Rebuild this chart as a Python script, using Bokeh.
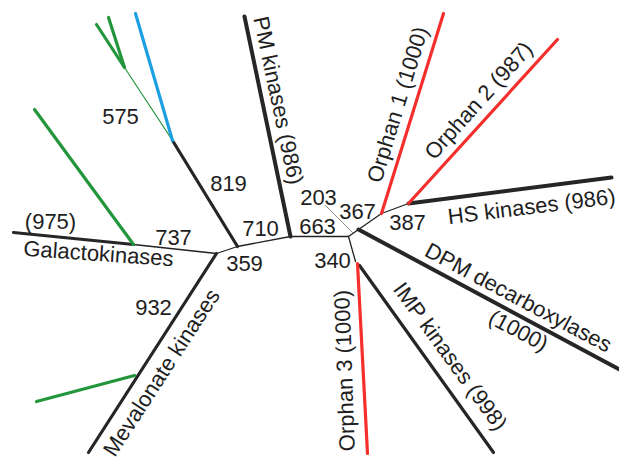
from bokeh.plotting import figure
from bokeh.models import ColumnDataSource, Range1d
from bokeh.core.properties import value
from bokeh.embed import file_html
from bokeh.resources import INLINE

W, H = 619, 462

# Tree nodes (layout position in picture pixels, y measured downward)
node_names = ["A", "B", "C", "D", "E", "F", "G", "Hn", "I", "J", "K", "L", "M203",
              "pm", "blue", "grn1", "grn2", "galgrn", "galend", "mevend", "mevgrn",
              "orph3s", "orph3", "imps", "imp", "dpm", "hs", "orph2", "orph1", "leaf203"]
node_px = [348, 358, 381, 408, 355, 290, 237, 216, 172, 124, 133, 134, 352,
           244, 135, 96, 108, 34, 13, 88, 36,
           357, 367, 359, 493, 619, 611, 557, 443, 325]
node_py = [236, 229, 213, 203, 261, 236, 246, 253, 140, 67, 244, 375, 232,
           16, 13, 24, 17, 109, 232, 452, 401,
           263, 453, 265, 452, 369, 177, 39, 13, 205]

# Branches: from, to, kind
edge_from = ["A", "F", "G", "Hn", "F", "G", "I", "I", "J", "J", "K", "K", "Hn", "L",
             "A", "B", "C", "B", "C", "D", "D", "A", "orph3s", "imps", "M203"]
edge_to = ["F", "G", "Hn", "K", "pm", "I", "blue", "J", "grn1", "grn2", "galgrn", "galend",
           "mevend", "mevgrn", "B", "C", "D", "dpm", "orph1", "orph2", "hs", "E",
           "orph3", "imp", "leaf203"]
edge_kind = ["thin", "thin", "thin", "thin", "thick", "mid", "blue", "thingreen", "green", "green",
             "green", "mid", "mid", "green", "thin", "thin", "thin", "thick", "red", "red",
             "thick", "thin", "red", "mid", "grey"]

# Bootstrap values and clade labels
label_text = ["575", "819", "710", "663", "203", "367", "387", "340", "737", "359", "932",
              "(975)", "Galactokinases", "Mevalonate kinases", "PM kinases (986)",
              "Orphan 1 (1000)", "Orphan 2 (987)", "HS kinases (986)", "DPM decarboxylases",
              "(1000)", "IMP kinases (998)", "Orphan 3 (1000)"]
label_px = [120, 228, 260, 317, 318, 357, 407, 332, 173, 244, 153,
            50, 98, 161, 278, 397, 478, 531, 518, 518, 450, 344]
label_py = [116, 183, 228, 226, 197, 211, 222, 260, 237, 263, 307,
            221, 253, 372, 100, 104, 100, 206, 297, 330, 356, 370]
label_angle = [0, 0, 0, 0, 0, 0, 0, 0, 0, 0, 0,
               0, -4, 57, -78, 73, 48, 7, -28, -28, -54, 92]

styles = {
    "thin": ("#222222", 1.3),
    "grey": ("#888888", 1.0),
    "thick": ("#262626", 4.0),
    "mid": ("#262626", 3.2),
    "red": ("#f5302c", 3.2),
    "green": ("#23963c", 3.2),
    "thingreen": ("#23963c", 1.2),
    "blue": ("#1d9fe3", 3.2),
}

pos = {n: (x, H - y) for n, x, y in zip(node_names, node_px, node_py)}

p = figure(width=W, height=H, x_range=Range1d(0, W), y_range=Range1d(0, H),
           output_backend="svg", toolbar_location=None, min_border=0)
p.axis.visible = False
p.grid.visible = False
p.outline_line_color = None
p.background_fill_color = "white"
p.border_fill_color = "white"

for kind, (col, lw) in styles.items():
    idx = [i for i, k in enumerate(edge_kind) if k == kind]
    if not idx:
        continue
    src = ColumnDataSource(dict(
        x0=[pos[edge_from[i]][0] for i in idx], y0=[pos[edge_from[i]][1] for i in idx],
        x1=[pos[edge_to[i]][0] for i in idx], y1=[pos[edge_to[i]][1] for i in idx]))
    p.segment("x0", "y0", "x1", "y1", source=src, line_color=col, line_width=lw,
              line_cap="round")

tsrc = ColumnDataSource(dict(x=label_px, y=[H - y for y in label_py], t=label_text,
                             a=label_angle))
p.text("x", "y", text="t", angle="a", angle_units="deg", source=tsrc,
       text_font=value("Liberation Sans"), text_font_size="22px", text_color="#1e1e1e",
       text_align="center", text_baseline="middle")

open("out.html", "w").write(file_html(p, INLINE))
